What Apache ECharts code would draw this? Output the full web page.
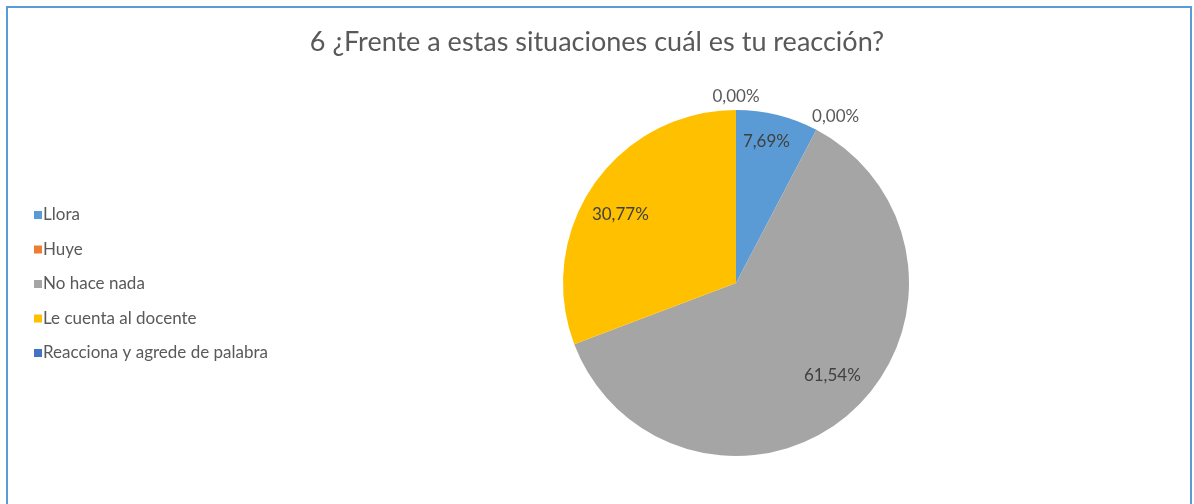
<!DOCTYPE html>
<html>
<head>
<meta charset="utf-8">
<style>
html,body{margin:0;padding:0;background:#fff;}
#chart{width:1194px;height:504px;}
</style>
<script src="https://cdn.jsdelivr.net/npm/echarts@6/dist/echarts.min.js"></script>
</head>
<body>
<div id="chart"></div>
<script>
const categories = ['Llora', 'Huye', 'No hace nada', 'Le cuenta al docente', 'Reacciona y agrede de palabra'];
const values = [7.69, 0.00, 61.54, 30.77, 0.00];
const colors = ['#5B9BD5', '#ED7D31', '#A5A5A5', '#FFC000', '#4472C4'];
const labelOffsets = [[9, -55], [58, -87], [37, 26], [-42, -18], [0, -97]];

const chart = echarts.init(document.getElementById('chart'));
const fontFam = 'Lato, "Liberation Sans", sans-serif';
chart.setOption({
  backgroundColor: '#ffffff',
  animation: false,
  title: {
    text: '6 ¿Frente a estas situaciones cuál es tu reacción?',
    left: 'center',
    top: 24,
    textStyle: { fontFamily: fontFam, fontSize: 27, fontWeight: 'normal', color: '#595959' }
  },
  legend: {
    orient: 'vertical',
    left: 29,
    top: 201,
    icon: 'rect',
    itemWidth: 8,
    itemHeight: 8,
    itemGap: 16.5,
    data: categories,
    textStyle: { fontFamily: fontFam, fontSize: 17, color: '#595959', lineHeight: 18, padding: [0, 0, 0, -4] }
  },
  graphic: [{
    type: 'rect',
    shape: { x: 7, y: 7, width: 1184, height: 520 },
    style: { fill: 'none', stroke: '#5B9BD5', lineWidth: 2 },
    silent: true
  }],
  series: [{
    type: 'pie',
    center: [736, 283],
    radius: 173,
    startAngle: 90,
    clockwise: true,
    avoidLabelOverlap: false,
    labelLine: { show: false },
    label: {
      show: true,
      position: 'inside',
      fontFamily: fontFam,
      fontSize: 17,
      color: '#404040',
      formatter: p => p.value.toFixed(2).replace('.', ',') + '%'
    },
    data: categories.map((c, i) => ({
      name: c,
      value: values[i],
      itemStyle: { color: colors[i] },
      label: { offset: labelOffsets[i], color: values[i] === 0 ? '#595959' : '#404040' }
    }))
  }]
});
</script>
</body>
</html>
